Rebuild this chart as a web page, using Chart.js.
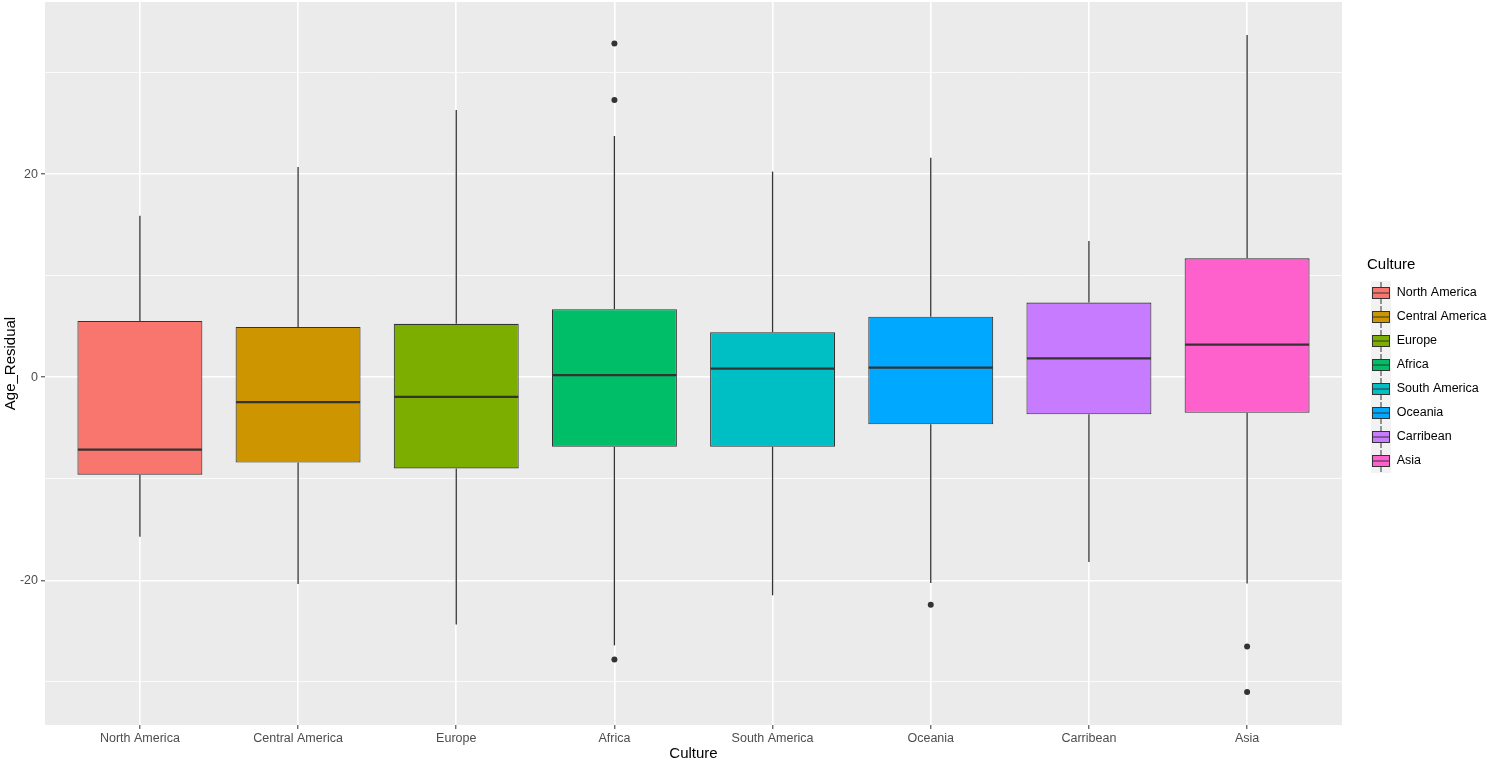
<!DOCTYPE html>
<html>
<head>
<meta charset="utf-8">
<script src="https://cdn.jsdelivr.net/npm/chart.js@4.4.1/dist/chart.umd.min.js"></script>
<style>
  html, body { margin: 0; padding: 0; background: #fff; }
  #wrap { width: 1491px; height: 763px; }
</style>
</head>
<body>
<div id="wrap"><canvas id="boxChart"></canvas></div>
<script>
// Box statistics
const cultures = ['North America', 'Central America', 'Europe', 'Africa', 'South America', 'Oceania', 'Carribean', 'Asia'];
const whiskerLow = [-15.7, -20.35, -24.35, -26.4, -21.47, -20.25, -18.2, -20.3];
const q1 = [-9.6, -8.4, -8.98, -6.84, -6.84, -4.63, -3.65, -3.5];
const median = [-7.12, -2.46, -1.93, 0.21, 0.84, 0.95, 1.85, 3.2];
const q3 = [5.54, 4.95, 5.26, 6.7, 4.42, 5.96, 7.35, 11.7];
const whiskerHigh = [15.9, 20.7, 26.3, 23.75, 20.25, 21.6, 13.4, 33.7];
const outlierCulture = ['Africa', 'Africa', 'Africa', 'Oceania', 'Asia', 'Asia'];
const outlierValue = [32.85, 27.3, -27.8, -22.39, -26.5, -31.0];
const yTicks = [-30, -20, -10, 0, 10, 20, 30];
const colors = ['#F8766D', '#CD9600', '#7CAE00', '#00BE67', '#00BFC4', '#00A9FF', '#C77CFF', '#FF61CC'];

const ink = '#333333';
const font = 'Liberation Sans, Arial, sans-serif';

// little boxplot glyph for each legend key
function keyGlyph(color) {
    const c = document.createElement('canvas');
    c.width = 38;
    c.height = 24;
    const g = c.getContext('2d');
    const x0 = 18;
    g.fillStyle = '#F2F2F2';
    g.fillRect(x0, 0, 20, 24);
    g.strokeStyle = ink;
    g.lineWidth = 1;
    g.beginPath();
    g.moveTo(x0 + 10, 1); g.lineTo(x0 + 10, 6.5);
    g.moveTo(x0 + 10, 17.5); g.lineTo(x0 + 10, 23);
    g.stroke();
    g.fillStyle = color;
    g.fillRect(x0 + 1.5, 6.5, 17, 11);
    g.strokeRect(x0 + 1.5, 6.5, 17, 11);
    g.beginPath();
    g.moveTo(x0 + 1.5, 12); g.lineTo(x0 + 18.5, 12);
    g.stroke();
    return c;
}
const glyphs = colors.map(keyGlyph);

const panelBackground = {
    id: 'panelBackground',
    beforeDraw(chart) {
        const {ctx, chartArea: a} = chart;
        ctx.save();
        ctx.fillStyle = '#EBEBEB';
        ctx.fillRect(a.left, a.top, a.right - a.left, a.bottom - a.top);
        ctx.restore();
    }
};

const pos = cultures.map((c, i) => i);

const ctx = document.getElementById('boxChart').getContext('2d');
const boxChart = new Chart(ctx, {
    type: 'bar',
    data: {
        datasets: [
            {
                label: 'whiskers-low',
                data: pos.map(i => ({x: i, y: [whiskerLow[i], q1[i]]})),
                backgroundColor: ink,
                borderWidth: 0,
                maxBarThickness: 1.3,
                grouped: false,
                order: 3
            },
            {
                label: 'whiskers-high',
                data: pos.map(i => ({x: i, y: [q3[i], whiskerHigh[i]]})),
                backgroundColor: ink,
                borderWidth: 0,
                maxBarThickness: 1.3,
                grouped: false,
                order: 3
            },
            {
                label: 'boxes',
                data: pos.map(i => ({x: i, y: [q1[i], q3[i]]})),
                backgroundColor: colors,
                borderColor: ink,
                borderWidth: 1.1,
                borderSkipped: false,
                barPercentage: 0.79,
                categoryPercentage: 1,
                grouped: false,
                order: 2
            },
            {
                type: 'scatter',
                label: 'median',
                data: pos.map(i => ({x: i, y: median[i]})),
                pointStyle: 'line',
                pointRadius: 62,
                borderColor: ink,
                borderWidth: 2.2,
                order: 1
            },
            {
                type: 'scatter',
                label: 'outliers',
                data: outlierCulture.map((c, k) => ({x: cultures.indexOf(c), y: outlierValue[k]})),
                pointStyle: 'circle',
                pointRadius: 3,
                backgroundColor: ink,
                borderColor: ink,
                borderWidth: 0,
                order: 0
            }
        ]
    },
    options: {
        responsive: true,
        maintainAspectRatio: false,
        animation: false,
        layout: { autoPadding: false, padding: { top: 2, right: 0, bottom: 0, left: 0 } },
        plugins: {
            tooltip: { enabled: false },
            legend: {
                position: 'right',
                fullSize: false,
                maxWidth: 149,
                title: {
                    display: true,
                    text: '      Culture',
                    position: 'start',
                    color: '#000',
                    font: { family: font, size: 15 },
                    padding: { top: 9, bottom: 0 }
                },
                labels: {
                    usePointStyle: true,
                    pointStyleWidth: 37,
                    padding: 11.5,
                    color: '#000',
                    font: { family: font, size: 12.5 },
                    generateLabels: () => cultures.map((c, i) => ({
                        text: c,
                        pointStyle: glyphs[i],
                        fillStyle: colors[i],
                        strokeStyle: ink,
                        lineWidth: 0,
                        hidden: false,
                        datasetIndex: 2
                    }))
                },
                onClick: () => {}
            }
        },
        scales: {
            x: {
                type: 'linear',
                min: -0.6,
                max: 7.6,
                offset: false,
                afterBuildTicks: s => { s.ticks = pos.map(v => ({value: v})); },
                afterFit: s => { s.height = 38; },
                border: { display: false },
                grid: {
                    offset: false,
                    color: '#FFFFFF',
                    lineWidth: 1.6,
                    tickColor: ink,
                    tickLength: 4,
                    tickWidth: 1
                },
                ticks: {
                    autoSkip: false,
                    maxRotation: 0,
                    padding: 2,
                    color: '#4D4D4D',
                    font: { family: font, size: 12.5 },
                    callback: v => cultures[v]
                },
                title: {
                    display: true,
                    text: 'Culture',
                    color: '#000',
                    font: { family: font, size: 15 },
                    padding: { top: 0, bottom: 0 }
                }
            },
            y: {
                min: -34.24,
                max: 36.94,
                afterBuildTicks: s => { s.ticks = yTicks.map(v => ({value: v})); },
                afterFit: s => { s.width = 45; s.paddingTop = 0; s.paddingBottom = 0; },
                border: { display: false },
                grid: {
                    color: '#FFFFFF',
                    lineWidth: c => (c.tick && c.tick.value % 20 === 0) ? 1.6 : 0.8,
                    tickColor: c => (c.tick && c.tick.value % 20 === 0) ? ink : 'rgba(0,0,0,0)',
                    tickLength: 4,
                    tickWidth: 1
                },
                ticks: {
                    padding: 3,
                    color: '#4D4D4D',
                    font: { family: font, size: 12.5 },
                    callback: v => (v % 20 === 0 ? String(v) : '')
                },
                title: {
                    display: true,
                    text: 'Age_Residual',
                    color: '#000',
                    font: { family: font, size: 15 },
                    padding: { top: 2, bottom: 0 }
                }
            }
        }
    },
    plugins: [panelBackground]
});
</script>
</body>
</html>
